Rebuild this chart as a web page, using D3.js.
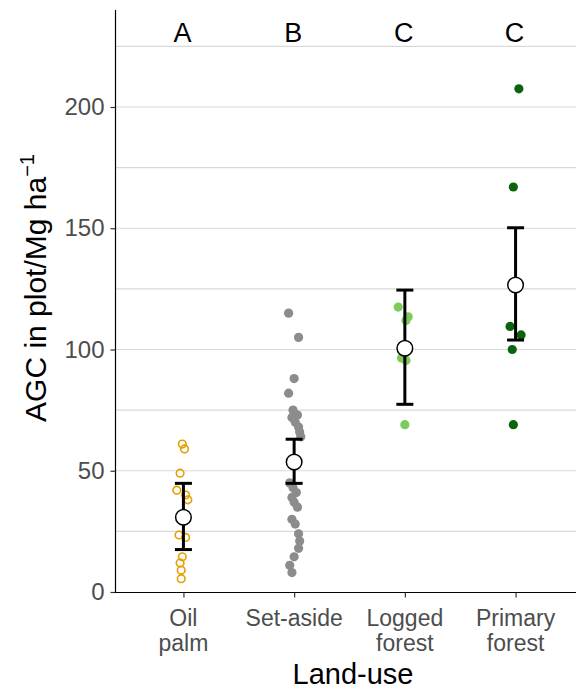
<!DOCTYPE html>
<html>
<head>
<meta charset="utf-8">
<script src="https://cdn.jsdelivr.net/npm/d3@7"></script>
<style>
  html, body { margin: 0; padding: 0; background: #fff; }
  svg { display: block; font-family: "Liberation Sans", Arial, sans-serif; }
</style>
</head>
<body>
<svg id="chart" width="576" height="690"></svg>
<script>
// Land-use categories (two-line tick labels) and significance letters
const categories = ["Oil palm", "Set-aside", "Logged forest", "Primary forest"];
const tickLines = [["Oil", "palm"], ["Set-aside"], ["Logged", "forest"], ["Primary", "forest"]];
const groupLetters = ["A", "B", "C", "C"];
const yTicks = [0, 50, 100, 150, 200];
const yGrid = [25, 50, 75, 100, 125, 150, 175, 200, 225];

// Plot-level AGC values (Mg/ha) and their horizontal jitter (fraction of category step)
const oilPalmAGC = [61, 59, 49, 42, 40, 38, 23.5, 22.5, 14.5, 12, 9, 5.5];
const oilPalmJit = [-0.01, 0.01, -0.03, -0.06, 0.02, 0.04, -0.04, 0.02, -0.01, -0.03, -0.02, -0.02];
const setAsideAGC = [115, 105, 88, 82, 75, 73, 72, 70, 68, 66, 64, 45, 43, 41, 39, 37, 35, 30, 28, 24, 21, 18, 14.5, 11, 8];
const setAsideJit = [-0.05, 0.04, 0, -0.05, -0.01, 0.03, -0.02, 0.01, 0.04, 0.05, 0.06, -0.04, -0.01, 0.02, -0.02, 0, 0.03, -0.02, 0.01, 0.04, 0.05, 0.04, 0, -0.04, -0.02];
const loggedAGC = [117.5, 113.5, 112, 96.5, 95.5, 69];
const loggedJit = [-0.06, 0.03, 0.01, -0.03, 0.01, 0];
const primaryAGC = [207.5, 167, 109.5, 106, 100, 69];
const primaryJit = [0.03, -0.02, -0.05, 0.05, -0.03, -0.02];

// Group estimates with confidence intervals
const meanAGC = [30.8, 53.6, 100.5, 126.6];
const lowerCI = [17.5, 44.8, 77.4, 103.9];
const upperCI = [44.8, 63.0, 124.5, 150.2];

const groupColors = ["#E69F00", "#8C8C8C", "#7CCB5B", "#0B640B"];

const svg = d3.select("#chart");
const W = 576;

const x = d3.scalePoint().domain(categories).range([117, 582]).padding(0.6);
const y = d3.scaleLinear().domain([0, 240]).range([592, 10]);
const step = x.step();

// horizontal grid
svg.append("g").selectAll("line").data(yGrid).join("line")
  .attr("x1", 116).attr("x2", W)
  .attr("y1", d => y(d)).attr("y2", d => y(d))
  .attr("stroke", "#D9D9D9").attr("stroke-width", 1.2);

// axes
const yAxis = svg.append("g").attr("transform", "translate(115.5,0)")
  .call(d3.axisLeft(y).tickValues(yTicks).tickSize(5).tickPadding(6).tickFormat(d3.format("d")));
yAxis.select(".domain").attr("d", `M0,${y(240)}V${y(0)}`).attr("stroke", "#000").attr("stroke-width", 1.2);
yAxis.selectAll(".tick line").attr("stroke", "#333").attr("stroke-width", 1.2);
yAxis.selectAll(".tick text").attr("fill", "#4D4D4D").style("font-size", "24px")
  .style("font-family", "'Liberation Sans', Arial, sans-serif");

const xAxis = svg.append("g").attr("transform", "translate(0,592.5)")
  .call(d3.axisBottom(x).tickSize(5).tickFormat(""));
xAxis.select(".domain").attr("d", `M115,0H${W}`).attr("stroke", "#000").attr("stroke-width", 1.2);
xAxis.selectAll(".tick line").attr("stroke", "#333").attr("stroke-width", 1.2);

// multi-line x tick labels
const xl = svg.append("g");
categories.forEach((c, i) => {
  const t = xl.append("text").attr("text-anchor", "middle").attr("fill", "#4D4D4D")
    .style("font-size", "23px");
  tickLines[i].forEach((ln, j) => {
    t.append("tspan").attr("x", x(c)).attr("y", 626 + j * 25).text(ln);
  });
});

// axis titles
svg.append("text").attr("x", (116 + W) / 2 + 7).attr("y", 684).attr("text-anchor", "middle")
  .style("font-size", "29px").attr("fill", "#000").text("Land-use");

const yt = svg.append("text")
  .attr("transform", `translate(46,${(10 + 592) / 2 - 13}) rotate(-90)`)
  .attr("text-anchor", "middle").style("font-size", "30px").attr("fill", "#000");
yt.append("tspan").text("AGC in plot/Mg ha");
yt.append("tspan").attr("dy", -12).style("font-size", "20px").text("\u22121");

// group letters
svg.append("g").selectAll("text").data(categories).join("text")
  .attr("x", (d, i) => x(d) - 1).attr("y", 42).attr("text-anchor", "middle")
  .style("font-size", "27px").attr("fill", "#000")
  .text((d, i) => groupLetters[i]);

// raw plot values
const series = [
  { vals: oilPalmAGC, jit: oilPalmJit, open: true },
  { vals: setAsideAGC, jit: setAsideJit, open: false },
  { vals: loggedAGC, jit: loggedJit, open: false },
  { vals: primaryAGC, jit: primaryJit, open: false }
];
series.forEach((s, i) => {
  const cx = x(categories[i]);
  svg.append("g").selectAll("circle").data(s.vals).join("circle")
    .attr("cx", (d, k) => cx + s.jit[k] * step)
    .attr("cy", d => y(d))
    .attr("r", s.open ? 3.8 : 4.6)
    .attr("fill", s.open ? "none" : groupColors[i])
    .attr("stroke", s.open ? groupColors[i] : "none")
    .attr("stroke-width", s.open ? 1.6 : 0);
});

// confidence intervals
const eb = svg.append("g").attr("stroke", "#000").attr("stroke-width", 3).attr("fill", "none");
categories.forEach((c, i) => {
  const cx = x(c), hw = 8.5;
  eb.append("line").attr("x1", cx).attr("x2", cx).attr("y1", y(upperCI[i])).attr("y2", y(lowerCI[i]));
  eb.append("line").attr("x1", cx - hw).attr("x2", cx + hw).attr("y1", y(upperCI[i])).attr("y2", y(upperCI[i]));
  eb.append("line").attr("x1", cx - hw).attr("x2", cx + hw).attr("y1", y(lowerCI[i])).attr("y2", y(lowerCI[i]));
});

// group means
svg.append("g").selectAll("circle").data(categories).join("circle")
  .attr("cx", d => x(d)).attr("cy", (d, i) => y(meanAGC[i]))
  .attr("r", 7.8).attr("fill", "#fff").attr("stroke", "#000").attr("stroke-width", 1.5);
</script>
</body>
</html>
